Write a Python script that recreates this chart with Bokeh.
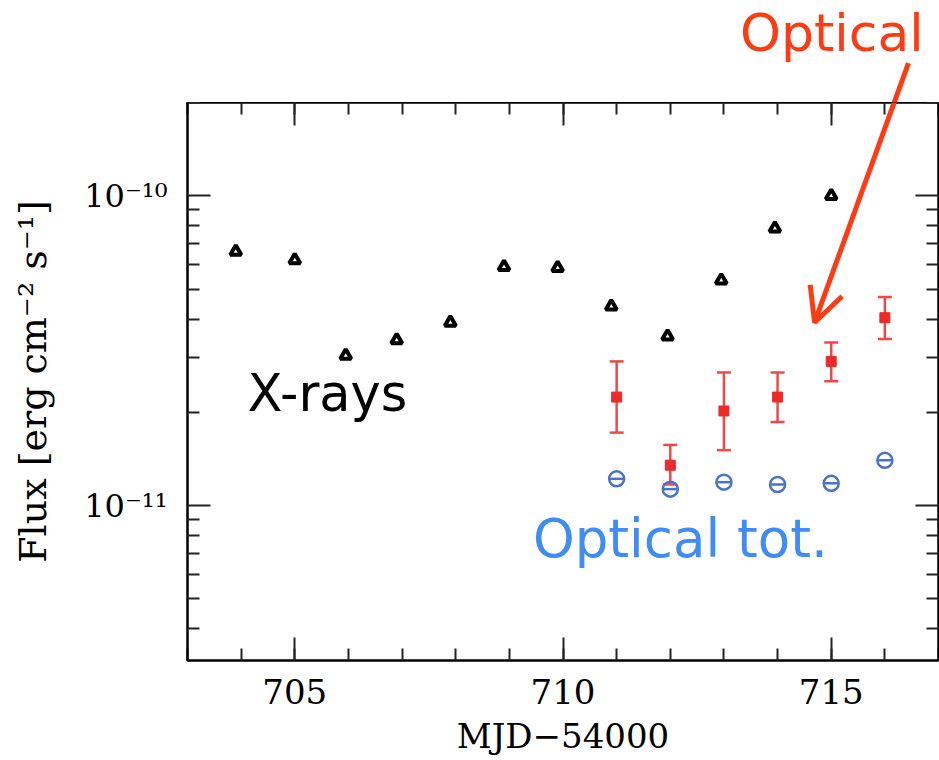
import math
from bokeh.plotting import figure
from bokeh.layouts import column
from bokeh.models import (Range1d, FixedTicker, LinearAxis, LogAxis, Label, Arrow,
                          OpenHead, Whisker, TeeHead, ColumnDataSource, CustomJSTickFormatter)
from bokeh.embed import file_html
from bokeh.resources import INLINE

# ---- data ----
xray_mjd = [703.9, 705.0, 705.95, 706.9, 707.9, 708.9, 709.9, 710.9, 711.95, 712.95, 713.95, 715.0]
xray_flux = [6.6e-11, 6.2e-11, 3.05e-11, 3.42e-11, 3.9e-11, 5.9e-11, 5.85e-11,
             4.4e-11, 3.52e-11, 5.33e-11, 7.85e-11, 1.0e-10]

opt_mjd = [711, 712, 713, 714, 715, 716]
opt_flux = [2.24e-11, 1.35e-11, 2.02e-11, 2.24e-11, 2.92e-11, 4.04e-11]
opt_upper = [2.92e-11, 1.57e-11, 2.69e-11, 2.69e-11, 3.36e-11, 4.71e-11]
opt_lower = [1.72e-11, 1.17e-11, 1.51e-11, 1.86e-11, 2.52e-11, 3.45e-11]

tot_mjd = [711, 712, 713, 714, 715, 716]
tot_flux = [1.22e-11, 1.13e-11, 1.19e-11, 1.17e-11, 1.18e-11, 1.40e-11]

x_major = [705, 710, 715]
x_minor = list(range(703, 718))
y_major = [1e-11, 1e-10]
y_minor = [k * 1e-12 for k in range(4, 10)] + [k * 1e-11 for k in range(2, 10)] + [2e-10]
y_tick_labels = {1e-11: "10⁻¹¹", 1e-10: "10⁻¹⁰"}

x_label = "MJD−54000"
y_label = "Flux [erg cm⁻² s⁻¹]"

SERIF = "DejaVu Serif"
HAND = "DejaVu Sans"
RED = "#ff3b14"

W = 939
TOP_H = 102
FRAME_H = 558
BOTTOM = 100
Y_LO, Y_HI = 10 ** -11.5, 2e-10

x_range = Range1d(703, 717)

p = figure(width=W, height=760 - TOP_H, output_backend="svg", toolbar_location=None,
           y_axis_type="log", x_range=x_range, y_range=Range1d(Y_LO, Y_HI),
           min_border_left=187, min_border_right=1, min_border_top=0, min_border_bottom=BOTTOM)
p.xgrid.visible = False
p.ygrid.visible = False
p.outline_line_color = "black"
p.outline_line_width = 2

def style_axis(ax, show_labels):
    ax.axis_line_color = "black"
    ax.axis_line_width = 2
    ax.major_tick_in = 23
    ax.major_tick_out = 0
    ax.minor_tick_in = 12
    ax.minor_tick_out = 0
    ax.major_tick_line_width = 2
    ax.minor_tick_line_width = 2
    ax.major_tick_line_color = "#222222"
    ax.minor_tick_line_color = "#222222"
    ax.major_label_text_font = SERIF
    ax.major_label_text_font_size = "34px"
    ax.major_label_text_color = "black"
    ax.axis_label_text_font = SERIF
    ax.axis_label_text_font_style = "normal"
    ax.axis_label_text_color = "black"
    if not show_labels:
        ax.formatter = CustomJSTickFormatter(code="return ''")
        ax.major_label_standoff = 0
        ax.major_label_text_font_size = "0px"

xax = p.xaxis[0]
xax.ticker = FixedTicker(ticks=x_major, minor_ticks=x_minor)
style_axis(xax, True)
xax.axis_label = x_label
xax.axis_label_text_font_size = "34px"
xax.major_label_standoff = 18
xax.axis_label_standoff = 9

yax = p.yaxis[0]
yax.ticker = FixedTicker(ticks=y_major, minor_ticks=y_minor)
style_axis(yax, True)
yax.major_label_overrides = y_tick_labels
yax.major_label_text_font_size = "32px"
yax.major_label_standoff = 20
yax.axis_label = y_label
yax.axis_label_text_font_size = "38px"
yax.axis_label_standoff = 26

top = LinearAxis(ticker=FixedTicker(ticks=x_major, minor_ticks=x_minor))
style_axis(top, False)
p.add_layout(top, "above")
right = LogAxis(ticker=FixedTicker(ticks=y_major, minor_ticks=y_minor))
style_axis(right, False)
p.add_layout(right, "right")

# X-rays
p.scatter(xray_mjd, xray_flux, marker="triangle", size=11, line_color="black",
          line_width=4, fill_color="white")

# Optical (error bars + squares)
src = ColumnDataSource(dict(x=opt_mjd, y=opt_flux, up=opt_upper, lo=opt_lower))
wh = Whisker(source=src, base="x", upper="up", lower="lo", dimension="height",
             line_color="#f04848", line_width=2.5,
             upper_head=TeeHead(size=14, line_color="#f04848", line_width=2.5),
             lower_head=TeeHead(size=14, line_color="#f04848", line_width=2.5))
p.add_layout(wh)
p.scatter("x", "y", source=src, marker="square", size=10, color="#ec2a2a")

# Optical total
p.scatter(tot_mjd, tot_flux, marker="circle", size=15, line_color="#4a72c8",
          line_width=2.5, fill_color=None)
p.scatter(tot_mjd, tot_flux, marker="dash", size=13, line_color="#4a72c8", line_width=2.5)

# hand-written annotations
p.add_layout(Label(x=704.12, y=2.3e-11, text="X-rays", text_font=HAND,
                   text_font_size="51px", text_color="black", text_baseline="alphabetic"))
p.add_layout(Label(x=709.44, y=7.85e-12, text="Optical tot.", text_font=HAND,
                   text_font_size="53px", text_color="#3f8cf5", text_baseline="alphabetic"))

arrow_start = (716.44, 2.68e-10)
arrow_end = (714.69, 3.9e-11)
p.add_layout(Arrow(x_start=arrow_start[0], y_start=arrow_start[1],
                   x_end=arrow_end[0], y_end=arrow_end[1],
                   line_color=RED, line_width=5,
                   end=OpenHead(size=34, line_color=RED, line_width=5)))

# strip above the frame: same x scale, y scale continuing the log axis upward
px_per_decade = FRAME_H / (math.log10(Y_HI) - math.log10(Y_LO))
top_hi = Y_HI * 10 ** (TOP_H / px_per_decade)
t = figure(width=W, height=TOP_H, output_backend="svg", toolbar_location=None,
           y_axis_type="log", x_range=x_range, y_range=Range1d(Y_HI, top_hi),
           x_axis_location=None, y_axis_location=None,
           min_border_left=187, min_border_right=1, min_border_top=0, min_border_bottom=0)
t.xgrid.visible = False
t.ygrid.visible = False
t.outline_line_color = None
t.add_layout(Label(x=713.30, y=3.34e-10, text="Optical", text_font=HAND,
                   text_font_size="52px", text_color=RED, text_baseline="alphabetic"))
t.add_layout(Arrow(x_start=arrow_start[0], y_start=arrow_start[1],
                   x_end=arrow_end[0], y_end=arrow_end[1],
                   line_color=RED, line_width=5, end=None))

layout = column(t, p, spacing=0)
open("out.html", "w").write(file_html(layout, INLINE))
